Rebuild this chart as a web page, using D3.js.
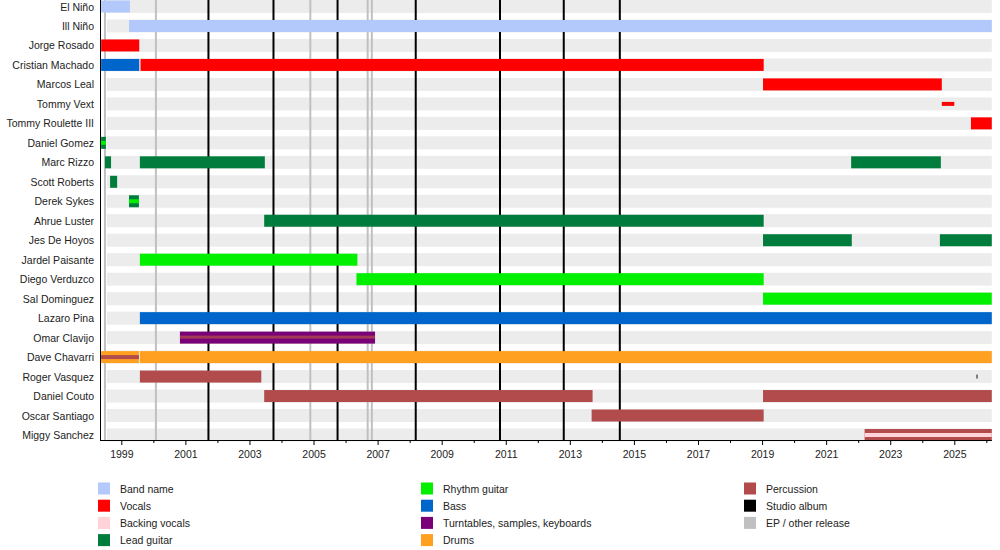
<!DOCTYPE html>
<html lang="en">
<head>
    <meta charset="UTF-8">
    <title>Ill Niño timeline</title>
    <script src="https://d3js.org/d3.v7.min.js"></script>
</head>
<body style="margin: 0px; background: #fff;">
<script>
    // band members, top to bottom
    var members = ['El Niño', 'Ill Niño', 'Jorge Rosado', 'Cristian Machado', 'Marcos Leal',
        'Tommy Vext', 'Tommy Roulette III', 'Daniel Gomez', 'Marc Rizzo', 'Scott Roberts',
        'Derek Sykes', 'Ahrue Luster', 'Jes De Hoyos', 'Jardel Paisante', 'Diego Verduzco',
        'Sal Dominguez', 'Lazaro Pina', 'Omar Clavijo', 'Dave Chavarri', 'Roger Vasquez',
        'Daniel Couto', 'Oscar Santiago', 'Miggy Sanchez'];

    var roles = ['Band name', 'Vocals', 'Backing vocals', 'Lead guitar', 'Rhythm guitar', 'Bass',
        'Turntables, samples, keyboards', 'Drums', 'Percussion', 'Studio album', 'EP / other release'];
    var roleColors = ['#b3c8fb', '#ff0000', '#ffd3d8', '#007d3c', '#00f000', '#0066cc',
        '#7a0078', '#ffa020', '#b24c4c', '#000000', '#c0c0c0'];

    var NOW = 2026.17;
    // [member, role, from, to] in decimal years
    var periods = [
        ['El Niño', 'Band name', 1998.37, 1999.27],
        ['Ill Niño', 'Band name', 1999.24, NOW],
        ['Jorge Rosado', 'Vocals', 1998.37, 1999.56],
        ['Cristian Machado', 'Bass', 1998.37, 1999.56],
        ['Cristian Machado', 'Vocals', 1999.6, 2019.05],
        ['Marcos Leal', 'Vocals', 2019.03, 2024.61],
        ['Tommy Roulette III', 'Vocals', 2025.52, NOW],
        ['Daniel Gomez', 'Lead guitar', 1998.37, 1998.52],
        ['Marc Rizzo', 'Lead guitar', 1998.49, 1998.68],
        ['Marc Rizzo', 'Lead guitar', 1999.58, 2003.48],
        ['Marc Rizzo', 'Lead guitar', 2021.78, 2024.58],
        ['Scott Roberts', 'Lead guitar', 1998.65, 1998.87],
        ['Derek Sykes', 'Lead guitar', 1999.24, 1999.55],
        ['Ahrue Luster', 'Lead guitar', 2003.46, 2019.05],
        ['Jes De Hoyos', 'Lead guitar', 2019.03, 2021.8],
        ['Jes De Hoyos', 'Lead guitar', 2024.55, NOW],
        ['Jardel Paisante', 'Rhythm guitar', 1999.58, 2006.37],
        ['Diego Verduzco', 'Rhythm guitar', 2006.34, 2019.05],
        ['Sal Dominguez', 'Rhythm guitar', 2019.03, NOW],
        ['Lazaro Pina', 'Bass', 1999.58, NOW],
        ['Omar Clavijo', 'Turntables, samples, keyboards', 2000.83, 2006.92],
        ['Dave Chavarri', 'Drums', 1998.37, 1999.55],
        ['Dave Chavarri', 'Drums', 1999.58, NOW],
        ['Roger Vasquez', 'Percussion', 1999.58, 2003.37],
        ['Daniel Couto', 'Percussion', 2003.46, 2013.71],
        ['Daniel Couto', 'Percussion', 2019.03, NOW],
        ['Oscar Santiago', 'Percussion', 2013.68, 2019.05],
        ['Miggy Sanchez', 'Percussion', 2022.2, NOW]
    ];
    // short / thin bars
    var thinPeriods = [
        ['Tommy Vext', 'Vocals', 2024.61, 2025.0],
        ['Roger Vasquez', 'EP / other release', 2025.68, 2025.74]
    ];
    // secondary roles, drawn as a line inside the bar
    var innerPeriods = [
        ['Daniel Gomez', 'Rhythm guitar', 1998.37, 1998.52],
        ['Derek Sykes', 'Rhythm guitar', 1999.24, 1999.55],
        ['Omar Clavijo', 'Percussion', 2000.83, 2006.92],
        ['Dave Chavarri', 'Percussion', 1998.37, 1999.55],
        ['Miggy Sanchez', 'Backing vocals', 2022.2, NOW]
    ];

    var studioAlbums = [2001.72, 2003.75, 2005.75, 2008.19, 2010.82, 2012.81, 2014.56];
    var otherReleases = [1998.49, 2000.08, 2004.9, 2006.69, 2006.82];
    var tickYears = d3.range(1999, 2027);

    var width = 1000, height = 550;
    var x = d3.scaleLinear().domain([1999, 2025]).range([121.3, 954.3]);
    var y = d3.scalePoint().domain(members).range([6.5, 435]);
    var color = d3.scaleOrdinal().domain(roles).range(roleColors);
    var barH = 12;

    var svg = d3.select('body').append('svg')
            .attr('width', width)
            .attr('height', height)
            .style('font-family', '"Liberation Sans", Arial, sans-serif');

    // light background stripes
    svg.append('g').selectAll('rect')
            .data(members).enter().append('rect')
            .attr('x', x(1998.55))
            .attr('width', x(NOW) - x(1998.55))
            .attr('y', function (d) { return y(d) - barH / 2 - 0.5; })
            .attr('height', barH + 1)
            .attr('fill', '#ececec');

    // release lines
    svg.append('g').selectAll('line')
            .data(otherReleases).enter().append('line')
            .attr('x1', function (d) { return x(d); })
            .attr('x2', function (d) { return x(d); })
            .attr('y1', 0).attr('y2', 440)
            .attr('stroke', color('EP / other release'))
            .attr('stroke-width', 2);
    svg.append('g').selectAll('line')
            .data(studioAlbums).enter().append('line')
            .attr('x1', function (d) { return x(d); })
            .attr('x2', function (d) { return x(d); })
            .attr('y1', 0).attr('y2', 440)
            .attr('stroke', color('Studio album'))
            .attr('stroke-width', 2);

    // bars
    svg.append('g').selectAll('rect')
            .data(periods).enter().append('rect')
            .attr('x', function (d) { return x(d[2]); })
            .attr('width', function (d) { return x(d[3]) - x(d[2]); })
            .attr('y', function (d) { return y(d[0]) - barH / 2; })
            .attr('height', barH)
            .attr('fill', function (d) { return color(d[1]); });

    svg.append('g').selectAll('rect')
            .data(thinPeriods).enter().append('rect')
            .attr('x', function (d) { return x(d[2]); })
            .attr('width', function (d) { return Math.max(1.5, x(d[3]) - x(d[2])); })
            .attr('y', function (d) { return y(d[0]) - 2; })
            .attr('height', 4)
            .attr('fill', function (d) { return d[1] == 'Vocals' ? color(d[1]) : '#777'; });

    svg.append('g').selectAll('rect')
            .data(innerPeriods).enter().append('rect')
            .attr('x', function (d) { return x(d[2]); })
            .attr('width', function (d) { return x(d[3]) - x(d[2]); })
            .attr('y', function (d) { return y(d[0]) - 2; })
            .attr('height', function (d) { return d[0] == 'Omar Clavijo' ? 3 : 4; })
            .attr('fill', function (d) { return color(d[1]); })
            .attr('opacity', function (d) { return d[0] == 'Omar Clavijo' ? 0.75 : 1; });

    // member names
    svg.append('g').selectAll('text')
            .data(members).enter().append('text')
            .attr('x', 94)
            .attr('y', function (d) { return y(d) + 4; })
            .attr('text-anchor', 'end')
            .attr('font-size', '10.5px')
            .attr('fill', '#222')
            .text(function (d) { return d; });

    // axes
    svg.append('line')
            .attr('x1', 100.5).attr('x2', 100.5)
            .attr('y1', 0).attr('y2', 440.5)
            .attr('stroke', '#000');
    var axis = d3.axisBottom(x)
            .tickValues(tickYears)
            .tickSize(0)
            .tickFormat(function (d) { return d % 2 == 1 ? d : ''; });
    var gAxis = svg.append('g')
            .attr('transform', 'translate(0,440)')
            .call(axis);
    gAxis.select('.domain').remove();
    gAxis.append('line')
            .attr('x1', 100).attr('x2', x(NOW))
            .attr('y1', 0.5).attr('y2', 0.5)
            .attr('stroke', '#000');
    gAxis.selectAll('.tick line')
            .attr('y2', function (d) { return d % 2 == 1 ? 5 : 3; })
            .attr('stroke', '#000');
    gAxis.selectAll('.tick text')
            .attr('y', 11)
            .attr('font-size', '10.5px')
            .attr('font-family', '"Liberation Sans", Arial, sans-serif')
            .attr('fill', '#222');

    // legend, three columns
    var legendCols = [98, 421, 744];
    var legendRows = [[0, 1, 2, 3], [4, 5, 6, 7], [8, 9, 10]];
    var legend = svg.append('g');
    legendRows.forEach(function (col, c) {
        col.forEach(function (ri, r) {
            var row = legend.append('g')
                    .attr('transform', 'translate(' + legendCols[c] + ',' + (482.5 + r * 17.2) + ')');
            row.append('rect')
                    .attr('width', 12).attr('height', 12)
                    .attr('fill', roleColors[ri]);
            row.append('text')
                    .attr('x', 22).attr('y', 10)
                    .attr('font-size', '10.5px')
                    .attr('fill', '#222')
                    .text(roles[ri]);
        });
    });
</script>
</body>
</html>
